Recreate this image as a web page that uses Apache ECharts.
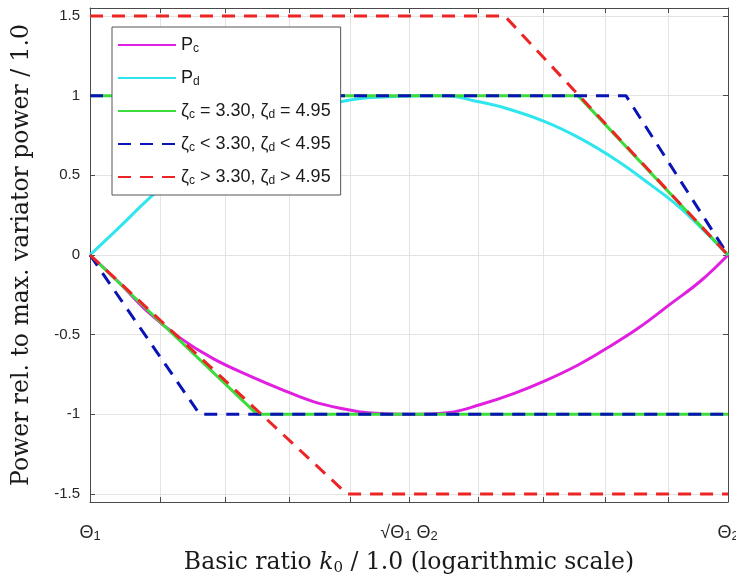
<!DOCTYPE html>
<html>
<head>
<meta charset="utf-8">
<script src="https://cdn.jsdelivr.net/npm/echarts@6/dist/echarts.min.js"></script>
<style>
html,body{margin:0;padding:0;background:#fff;}
#chart{width:736px;height:578px;}
</style>
</head>
<body>
<div id="chart"></div>
<script>
// x is the normalised log position: 0 = Θ1, 0.5 = √(Θ1Θ2), 1 = Θ2
const xGridTicks = [0, 0.110, 0.212, 0.312, 0.408, 0.5, 0.609, 0.711, 0.808, 0.907, 1];
const xLabelTicks = [0, 0.5, 1];
const xLabelText = ['{t|Θ}{s|1}', '{t|√Θ}{s|1}{t| Θ}{s|2}', '{t|Θ}{s|2}'];
const yTicks = [-1.5, -1, -0.5, 0, 0.5, 1, 1.5];

const pcX = [0, 0.045, 0.089, 0.141, 0.193, 0.251, 0.298, 0.350, 0.403, 0.435, 0.5, 0.560, 0.611, 0.664, 0.713, 0.765, 0.812, 0.859, 0.909, 0.958, 1];
const pcY = [0, -0.17, -0.35, -0.52, -0.65, -0.76, -0.84, -0.92, -0.97, -0.99, -1.0, -0.99, -0.94, -0.87, -0.79, -0.69, -0.58, -0.46, -0.31, -0.16, 0];

const pdX = [0, 0.045, 0.094, 0.141, 0.193, 0.251, 0.298, 0.350, 0.403, 0.45, 0.52, 0.56, 0.60, 0.644, 0.711, 0.769, 0.827, 0.879, 0.921, 0.958, 1];
const pdY = [0, 0.17, 0.36, 0.52, 0.65, 0.76, 0.84, 0.92, 0.97, 0.99, 1.0, 1.0, 0.97, 0.93, 0.84, 0.73, 0.59, 0.44, 0.31, 0.17, 0];

const eqUpX = [0, 0.765, 1];   const eqUpY = [1, 1, 0];
const eqLoX = [0, 0.262, 1];   const eqLoY = [0, -1, -1];
const ltUpX = [0, 0.840, 1];   const ltUpY = [1, 1, 0];
const ltLoX = [0, 0.172, 1];   const ltLoY = [0, -1, -1];
const gtUpX = [0, 0.650, 1];   const gtUpY = [1.5, 1.5, 0];
const gtLoX = [0, 0.403, 1];   const gtLoY = [0, -1.5, -1.5];

const names = ['Pc', 'Pd', 'eq', 'lt', 'gt'];
const legendText = {
  Pc: '{m|P}{s|c}',
  Pd: '{m|P}{s|d}',
  eq: '{m|ζ}{s|c}{m| = 3.30, ζ}{s|d}{m| = 4.95}',
  lt: '{m|ζ}{s|c}{m| < 3.30, ζ}{s|d}{m| < 4.95}',
  gt: '{m|ζ}{s|c}{m| > 3.30, ζ}{s|d}{m| > 4.95}'
};
const colors = { Pc: '#e01fe0', Pd: '#2fe6ee', eq: '#3cdc3c', lt: '#0a14b4', gt: '#ec2424' };

function pts(xs, ys) { return xs.map((x, i) => [x, ys[i]]); }

function lineSeries(name, data, dashed, smooth) {
  return {
    type: 'line', name: name, data: data, symbol: 'none', silent: true,
    xAxisIndex: 0, yAxisIndex: 0, animation: false,
    smooth: smooth ? 0.4 : false,
    lineStyle: { color: colors[name], width: 3, type: dashed ? [13, 9] : 'solid', join: 'round', cap: 'butt' },
    itemStyle: { color: colors[name] }
  };
}

const chart = echarts.init(document.getElementById('chart'), null, { renderer: 'canvas' });
const frame = { show: true, onZero: false, lineStyle: { color: '#4a4a4a', width: 1 } };
const serif = '"DejaVu Serif", "Liberation Serif", serif';
const sans = '"Liberation Sans", Arial, sans-serif';

chart.setOption({
  backgroundColor: '#fff',
  animation: false,
  grid: { left: 90, right: 8, top: 8, bottom: 76, containLabel: false, outerBoundsMode: 'none' },
  legend: {
    orient: 'vertical', left: 112, top: 27,
    data: names,
    backgroundColor: '#fff', borderColor: '#555', borderWidth: 1,
    padding: [9, 10, 8, 5],
    itemWidth: 58, itemHeight: 20, itemGap: 14,
    itemStyle: { opacity: 0 },
    formatter: n => legendText[n],
    textStyle: {
      fontFamily: sans, color: '#1a1a1a',
      rich: {
        m: { fontSize: 18, lineHeight: 20, fontFamily: sans, color: '#1a1a1a' },
        s: { fontSize: 12, lineHeight: 8, verticalAlign: 'bottom', fontFamily: sans, color: '#1a1a1a' }
      }
    }
  },
  xAxis: [{
    type: 'value', min: 0, max: 1, position: 'bottom',
    axisLine: frame,
    axisTick: { show: true, inside: true, length: 5, customValues: xGridTicks, lineStyle: { color: '#4a4a4a' } },
    splitLine: { show: true, lineStyle: { color: '#e3e3e3', width: 1 } },
    axisLabel: {
      customValues: xLabelTicks, margin: 21,
      formatter: v => xLabelText[xLabelTicks.indexOf(Math.round(v * 2) / 2)],
      rich: {
        t: { fontSize: 18, fontFamily: sans, color: '#262626', lineHeight: 20 },
        s: { fontSize: 13, fontFamily: sans, color: '#262626', lineHeight: 10, verticalAlign: 'bottom' }
      }
    },
    name: '{n|Basic ratio }{i|k}{s|0}{n| / 1.0 (logarithmic scale)}',
    nameLocation: 'middle', nameGap: 48,
    nameTextStyle: {
      rich: {
        n: { fontSize: 23.5, fontFamily: serif, color: '#1a1a1a', lineHeight: 26 },
        i: { fontSize: 23.5, fontFamily: serif, fontStyle: 'italic', color: '#1a1a1a', lineHeight: 26 },
        s: { fontSize: 15, fontFamily: serif, color: '#1a1a1a', lineHeight: 14, verticalAlign: 'bottom' }
      }
    }
  }, {
    type: 'value', min: 0, max: 1, position: 'top',
    axisLine: frame,
    axisTick: { show: true, inside: true, length: 5, customValues: xGridTicks, lineStyle: { color: '#4a4a4a' } },
    splitLine: { show: false },
    axisLabel: { show: false }
  }],
  yAxis: [{
    type: 'value', min: -1.55, max: 1.55, position: 'left',
    axisLine: frame,
    axisTick: { show: true, inside: true, length: 5, customValues: yTicks, lineStyle: { color: '#4a4a4a' } },
    splitLine: { show: true, lineStyle: { color: '#e3e3e3', width: 1 } },
    axisLabel: { customValues: yTicks, margin: 10, fontSize: 15, fontFamily: sans, color: '#262626' },
    name: 'Power rel. to max. variator power / 1.0',
    nameLocation: 'middle', nameGap: 56,
    nameTextStyle: { fontSize: 23.5, fontFamily: serif, color: '#1a1a1a' }
  }, {
    type: 'value', min: -1.55, max: 1.55, position: 'right',
    axisLine: frame,
    axisTick: { show: true, inside: true, length: 5, customValues: yTicks, lineStyle: { color: '#4a4a4a' } },
    splitLine: { show: false },
    axisLabel: { show: false }
  }],
  series: [
    lineSeries('Pc', pts(pcX, pcY), false, true),
    lineSeries('Pd', pts(pdX, pdY), false, true),
    lineSeries('eq', pts(eqUpX, eqUpY), false, false),
    lineSeries('eq', pts(eqLoX, eqLoY), false, false),
    lineSeries('lt', pts(ltUpX, ltUpY), true, false),
    lineSeries('lt', pts(ltLoX, ltLoY), true, false),
    lineSeries('gt', pts(gtUpX, gtUpY), true, false),
    lineSeries('gt', pts(gtLoX, gtLoY), true, false)
  ]
});
</script>
</body>
</html>
